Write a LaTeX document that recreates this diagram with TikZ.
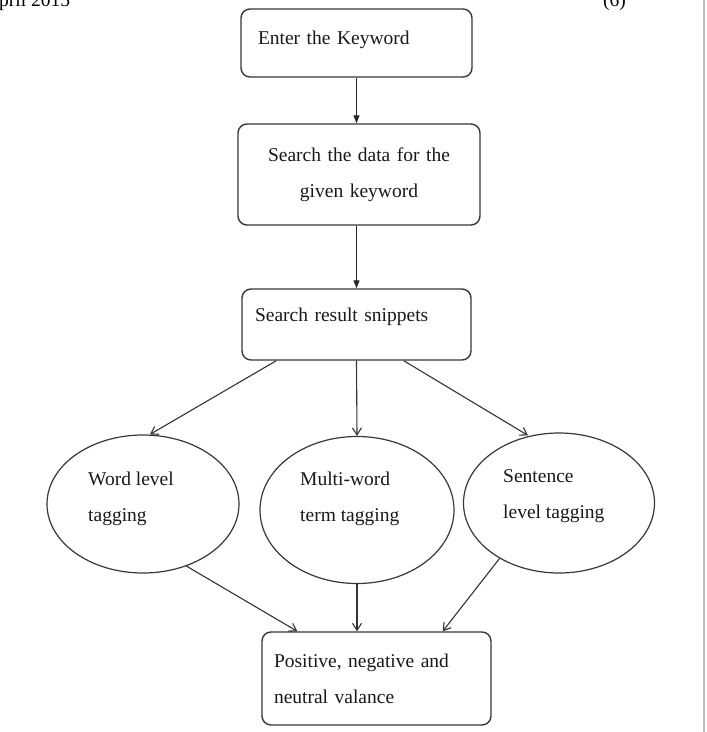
\documentclass[tikz,border=0pt]{standalone}
\usepackage{fontspec}
\setmainfont{Liberation Serif}
\usetikzlibrary{shapes.geometric,arrows.meta}
\begin{document}
\begin{tikzpicture}[x=1pt,y=-1pt,
  font=\fontsize{19.5}{36}\selectfont,
  boxnode/.style={draw=black!78, line width=1.4pt, rounded corners=9pt, rectangle, inner ysep=0pt, text=black!90},
  ellnode/.style={draw=black!78, line width=1.2pt, ellipse, inner sep=0pt},
  txtnode/.style={inner sep=0pt, align=left, anchor=west, text=black!90},
  arrT/.style={draw=black!85, line width=1.1pt, -{Triangle[length=8pt,width=6pt]}},
  arrV/.style={draw=black!80, line width=1.1pt, -{Straight Barb[length=7pt,width=9pt]}}
]
\useasboundingbox (0,0) rectangle (707,732);
\fill[white] (0,0) rectangle (707,732);
\begin{scope}
  \clip (0,0) rectangle (707,732);
  \node[anchor=base west, inner sep=0pt] (hdrL) at (-1,6) {pril 2015};
  \node[anchor=base west, inner sep=0pt] (hdrR) at (603,6) {(6)};
\end{scope}
\draw[black!25, line width=1.5pt] (704,0) -- (704,732);

% boxes
\node[boxnode, minimum height=68pt, inner xsep=17pt, text width=197pt, align=left,
      text height=13pt, text depth=10pt] (b1) at (356.5,43) {Enter the Keyword};
\node[boxnode, minimum height=101pt, inner xsep=11pt, text width=220pt, align=center] (b2) at (359,174.5)
      {Search the data for the\\given keyword};
\node[boxnode, minimum height=71pt, inner xsep=13pt, text width=203pt, align=left,
      text height=13pt, text depth=19pt] (b3) at (356.5,324.5) {Search result snippets};
\node[boxnode, minimum height=93pt, inner xsep=12pt, text width=205pt, align=left] (b4) at (376.5,678.5)
      {Positive, negative and\\neutral valance};

% ellipses
\node[ellnode, minimum width=192pt, minimum height=138pt] (e1) at (143,504) {};
\node[ellnode, minimum width=194pt, minimum height=147pt] (e2) at (357,510) {};
\node[ellnode, minimum width=191pt, minimum height=140pt] (e3) at (559,503) {};
\node[txtnode] (t1) at (88,498.5) {Word level\\tagging};
\node[txtnode] (t2) at (300,499) {Multi-word\\term tagging};
\node[txtnode] (t3) at (503,496.5) {Sentence\\level tagging};

% connectors
\draw[arrT] (b1.south) -- (b1.south |- b2.north);
\draw[arrT] (b3.north |- b2.south) -- (b3.north);
\draw[arrV] ([xshift=35pt]b3.south west) -- ([xshift=7pt]e1.north);
\draw[arrV] (b3.south) -- (e2.north);
\draw[arrV] ([xshift=-68pt]b3.south east) -- ([xshift=-31pt,yshift=-3pt]e3.north);
\draw[arrV] (e1.-55) -- ([xshift=36pt]b4.north west);
\draw[arrV] (e2.south) -- (e2.south |- b4.north);
\draw[arrV] (e3.-137) -- ([xshift=-49pt]b4.north east);
\end{tikzpicture}
\end{document}
